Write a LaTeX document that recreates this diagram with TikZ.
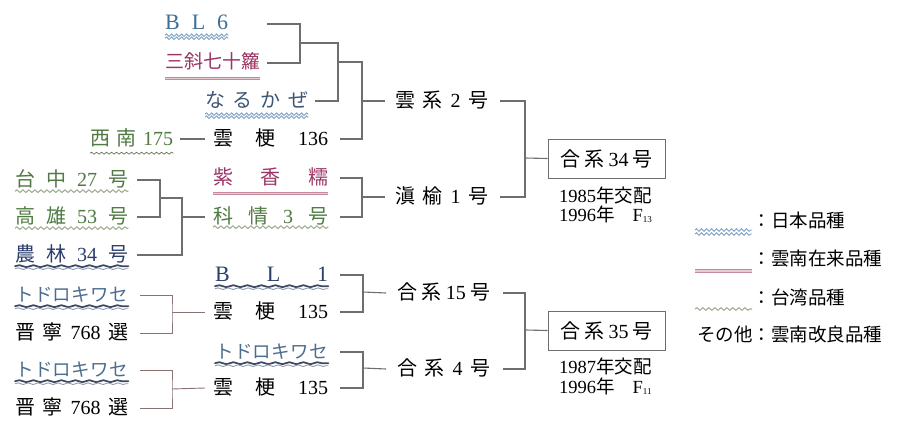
\documentclass[tikz,border=0pt]{standalone}
\usepackage{fontspec}
\setmainfont{Liberation Serif}
\newfontfamily\cjk{Noto Sans CJK JP}
\usetikzlibrary{decorations.pathmorphing}
\newcommand\jt[1]{{\cjk #1}}
\newcommand\spread[2]{\makebox[#1pt][s]{#2}}
\newcommand\undl[3]{\draw[#1] ([yshift=#2]#3.south west) -- ([yshift=#2]#3.south east);}
\definecolor{lineg}{HTML}{6E6E6E}
\definecolor{lineb}{HTML}{8A7272}
\definecolor{cBL}{HTML}{3B6F96}
\definecolor{cYN}{HTML}{9C3564}
\definecolor{cNR}{HTML}{3D5575}
\definecolor{cTW}{HTML}{4F7A42}
\definecolor{cDK}{HTML}{2B3D6B}
\definecolor{cTD}{HTML}{4D6D8F}
\definecolor{uJP}{HTML}{7FA2C4}
\definecolor{uYNd}{HTML}{C48A9C}
\definecolor{uYNl}{HTML}{E8CCD4}
\definecolor{uTW}{HTML}{A3AF95}
\definecolor{uDK}{HTML}{3C4862}
\definecolor{uDK2}{HTML}{8E9AAC}
\definecolor{uSN}{HTML}{62744F}
\begin{document}
\begin{tikzpicture}[x=1pt,y=-1pt,
  lab/.style={inner sep=0pt, anchor=west, text height=15pt, text depth=3pt, font=\fontsize{20}{24}\selectfont},
  labk/.style={lab, font=\fontsize{18.5}{22}\selectfont},
  labbl/.style={lab, font=\fontsize{22}{24}\selectfont},
  dat/.style={inner sep=0pt, anchor=west, text height=12pt, text depth=2pt, font=\fontsize{18.5}{22}\selectfont},
  br/.style={draw=lineg, line width=1.1pt},
  brb/.style={draw=lineb, line width=0.9pt},
  boxs/.style={draw=lineg, line width=1pt, minimum width=117pt, minimum height=39pt, inner sep=0pt, font=\fontsize{20}{24}\selectfont},
  ujp/.style={draw=uJP, line width=0.9pt, decorate, decoration={snake, segment length=5pt, amplitude=1.3pt}},
  uyn/.style={draw=uYNd, double=uYNl, double distance=1.3pt, line width=0.9pt},
  utw/.style={draw=uTW, line width=1.1pt, decorate, decoration={snake, segment length=6pt, amplitude=1.3pt}},
  usn/.style={draw=uSN, line width=0.7pt, decorate, decoration={snake, segment length=5pt, amplitude=1pt}},
  udk/.style={draw=uDK, line width=1.7pt, line cap=round, decorate, decoration={snake, segment length=14pt, amplitude=1pt}},
  udkl/.style={draw=uDK2, line width=0.9pt, decorate, decoration={snake, segment length=10pt, amplitude=0.8pt}},
  leg/.style={inner sep=0pt, anchor=west, text height=15pt, text depth=3pt, font=\fontsize{18.5}{22}\selectfont}
]
\useasboundingbox[fill=white] (0,0) rectangle (900,436);

% column 1 / 2 labels
\node[labbl, text=cBL] (bl6) at (165,24) {\spread{63}{B\hfil L\hfil 6}};
\node[lab, text=cYN, font=\fontsize{19}{22}\selectfont] (san) at (165,63) {\spread{95}{\jt{三}\hfil\jt{斜}\hfil\jt{七}\hfil\jt{十}\hfil\jt{籮}}};
\node[lab, text=cNR] (naru) at (205,101) {\spread{103}{\jt{な}\hfil\jt{る}\hfil\jt{か}\hfil\jt{ぜ}}};
\node[lab, text=cTW] (sein) at (90,139) {\spread{83}{\jt{西}\hfil\jt{南}\hfil 175}};
\node[lab] (ug136) at (213,139) {\spread{115}{\jt{雲}\hfil\jt{梗}\hfil 136}};

\node[lab, text=cTW] (tc) at (15,180) {\spread{113}{\jt{台}\hfil\jt{中}\hfil 27\hfil\jt{号}}};
\node[lab, text=cTW] (kao) at (15,217) {\spread{113}{\jt{高}\hfil\jt{雄}\hfil 53\hfil\jt{号}}};
\node[lab, text=cDK] (nor) at (15,255) {\spread{113}{\jt{農}\hfil\jt{林}\hfil 34\hfil\jt{号}}};
\node[lab, text=cYN] (shi) at (213,178) {\spread{115}{\jt{紫}\hfil\jt{香}\hfil\jt{糯}}};
\node[lab, text=cTW] (kajo) at (213,217) {\spread{115}{\jt{科}\hfil\jt{情}\hfil 3\hfil\jt{号}}};

\node[labbl, text=cDK] (bl1) at (215,275) {\spread{113}{B\hfil L\hfil 1}};
\node[lab] (ug135a) at (213,312) {\spread{115}{\jt{雲}\hfil\jt{梗}\hfil 135}};
\node[labk, text=cTD] (tdk3) at (215,352) {\spread{113}{\jt{ト}\hfil\jt{ド}\hfil\jt{ロ}\hfil\jt{キ}\hfil\jt{ワ}\hfil\jt{セ}}};
\node[lab] (ug135b) at (213,388) {\spread{115}{\jt{雲}\hfil\jt{梗}\hfil 135}};

\node[labk, text=cTD] (tdk1) at (15,295) {\spread{113}{\jt{ト}\hfil\jt{ド}\hfil\jt{ロ}\hfil\jt{キ}\hfil\jt{ワ}\hfil\jt{セ}}};
\node[lab] (sy1) at (15,333) {\spread{113}{\jt{晋}\hfil\jt{寧}\hfil 768\hfil\jt{選}}};
\node[labk, text=cTD] (tdk2) at (15,370) {\spread{113}{\jt{ト}\hfil\jt{ド}\hfil\jt{ロ}\hfil\jt{キ}\hfil\jt{ワ}\hfil\jt{セ}}};
\node[lab] (sy2) at (15,408) {\spread{113}{\jt{晋}\hfil\jt{寧}\hfil 768\hfil\jt{選}}};

% column 3
\node[lab] (u2) at (395,101) {\spread{93}{\jt{雲}\hfil\jt{系}\hfil 2\hfil\jt{号}}};
\node[lab] (den) at (395,197) {\spread{93}{\jt{滇}\hfil\jt{榆}\hfil 1\hfil\jt{号}}};
\node[lab] (g15) at (397,293) {\spread{93}{\jt{合}\hfil\jt{系}\hfil 15\hfil\jt{号}}};
\node[lab] (g4) at (397,369) {\spread{93}{\jt{合}\hfil\jt{系}\hfil 4\hfil\jt{号}}};

% final boxes
\node[boxs] (box34) at (606.5,158.5) {\spread{92}{\jt{合}\hfil\jt{系}\hfil 34\hfil\jt{号}}};
\node[dat] (d34a) at (559,197) {1985\jt{年交配}};
\node[dat] (d34b) at (559,216) {1996\jt{年}\hspace{18pt}F{\fontsize{9}{9}\selectfont\raisebox{-1.5pt}{13}}};
\node[boxs] (box35) at (606.5,330.5) {\spread{92}{\jt{合}\hfil\jt{系}\hfil 35\hfil\jt{号}}};
\node[dat] (d35a) at (559,368) {1987\jt{年交配}};
\node[dat] (d35b) at (559,388) {1996\jt{年}\hspace{18pt}F{\fontsize{9}{9}\selectfont\raisebox{-1.5pt}{11}}};

% underlines
\undl{ujp}{-2pt}{bl6} \undl{ujp}{-5pt}{bl6}
\undl{uyn}{-6pt}{san}
\undl{ujp}{-4pt}{naru} \undl{ujp}{-7pt}{naru}
\undl{usn}{-5pt}{sein}
\undl{utw}{-2pt}{tc}
\undl{utw}{-2pt}{kao}
\undl{udk}{-2pt}{nor} \undl{udkl}{-4.5pt}{nor}
\undl{uyn}{-6pt}{shi}
\undl{utw}{-1pt}{kajo}
\undl{udk}{-2pt}{bl1} \undl{udkl}{-4.5pt}{bl1}
\undl{udk}{-2pt}{tdk1} \undl{udkl}{-4.5pt}{tdk1}
\undl{udk}{-2pt}{tdk2} \undl{udkl}{-4.5pt}{tdk2}
\undl{udk}{-2pt}{tdk3} \undl{udkl}{-4.5pt}{tdk3}

% connectors: top group
\coordinate (a1) at (300,43);
\coordinate (a2) at (338,62);
\coordinate (a3) at (362,101);
\draw[br] ([xshift=39pt]bl6.east) -| (a1) |- ([xshift=7pt]san.east);
\draw[br] (a1) -| (a2) |- ([xshift=7pt]naru.east);
\draw[br] (a2) -| (a3) |- ([xshift=12pt]ug136.east);
\draw[br] (a3) -- ([xshift=-10pt]u2.west);
\draw[br] ([xshift=7pt]sein.east) -- ([xshift=-8pt]ug136.west);
% middle group
\coordinate (c1) at (160,198);
\coordinate (c2) at (182,217);
\draw[br] ([xshift=9pt]tc.east) -| (c1) |- ([xshift=9pt]kao.east);
\draw[br] (c1) -| (c2) |- ([xshift=9pt]nor.east);
\draw[br] (c2) -- ([xshift=-8pt]kajo.west);
\coordinate (d1) at (362,197);
\draw[br] ([xshift=12pt]shi.east) -| (d1) |- ([xshift=12pt]kajo.east);
\draw[br] (d1) -- ([xshift=-10pt]den.west);
% upper right
\coordinate (b1) at (525,158);
\draw[br] ([xshift=12pt]u2.east) -| (b1) |- ([xshift=12pt]den.east);
\draw[br] (b1) -- (box34.west);
% lower groups
\coordinate (e1) at (172,312);
\coordinate (e2) at (172,389);
\draw[brb] ([xshift=12pt]tdk1.east) -| (e1) |- ([xshift=12pt]sy1.east);
\draw[brb] (e1) -- ([xshift=-8pt]ug135a.west);
\draw[brb] ([xshift=12pt]tdk2.east) -| (e2) |- ([xshift=12pt]sy2.east);
\draw[brb] (e2) -- ([xshift=-8pt]ug135b.west);
\coordinate (f1) at (363,292);
\coordinate (f2) at (363,368);
\draw[br] ([xshift=12pt]bl1.east) -| (f1) |- ([xshift=12pt]ug135a.east);
\draw[br] (f1) -- ([xshift=-11pt]g15.west);
\draw[br] ([xshift=12pt]tdk3.east) -| (f2) |- ([xshift=12pt]ug135b.east);
\draw[br] (f2) -- ([xshift=-11pt]g4.west);
\coordinate (g1) at (525,330);
\draw[br] ([xshift=13pt]g15.east) -| (g1) |- ([xshift=13pt]g4.east);
\draw[br] (g1) -- (box35.west);

% legend
\coordinate (l1a) at (695,230); \coordinate (l1b) at (752,230);
\coordinate (l1c) at (695,234); \coordinate (l1d) at (752,234);
\draw[ujp] (l1a) -- (l1b);
\draw[ujp] (l1c) -- (l1d);
\coordinate (l2a) at (695,271); \coordinate (l2b) at (752,271);
\draw[uyn] (l2a) -- (l2b);
\coordinate (l3a) at (695,309); \coordinate (l3b) at (752,309);
\draw[utw] (l3a) -- (l3b);
\node[leg] (t1) at (752.5,221) {\jt{：日本品種}};
\node[leg] (t2) at (752.5,259) {\jt{：雲南在来品種}};
\node[leg] (t3) at (752.5,298) {\jt{：台湾品種}};
\node[leg] (t4) at (697,335) {\jt{その他：雲南改良品種}};
\end{tikzpicture}
\end{document}
